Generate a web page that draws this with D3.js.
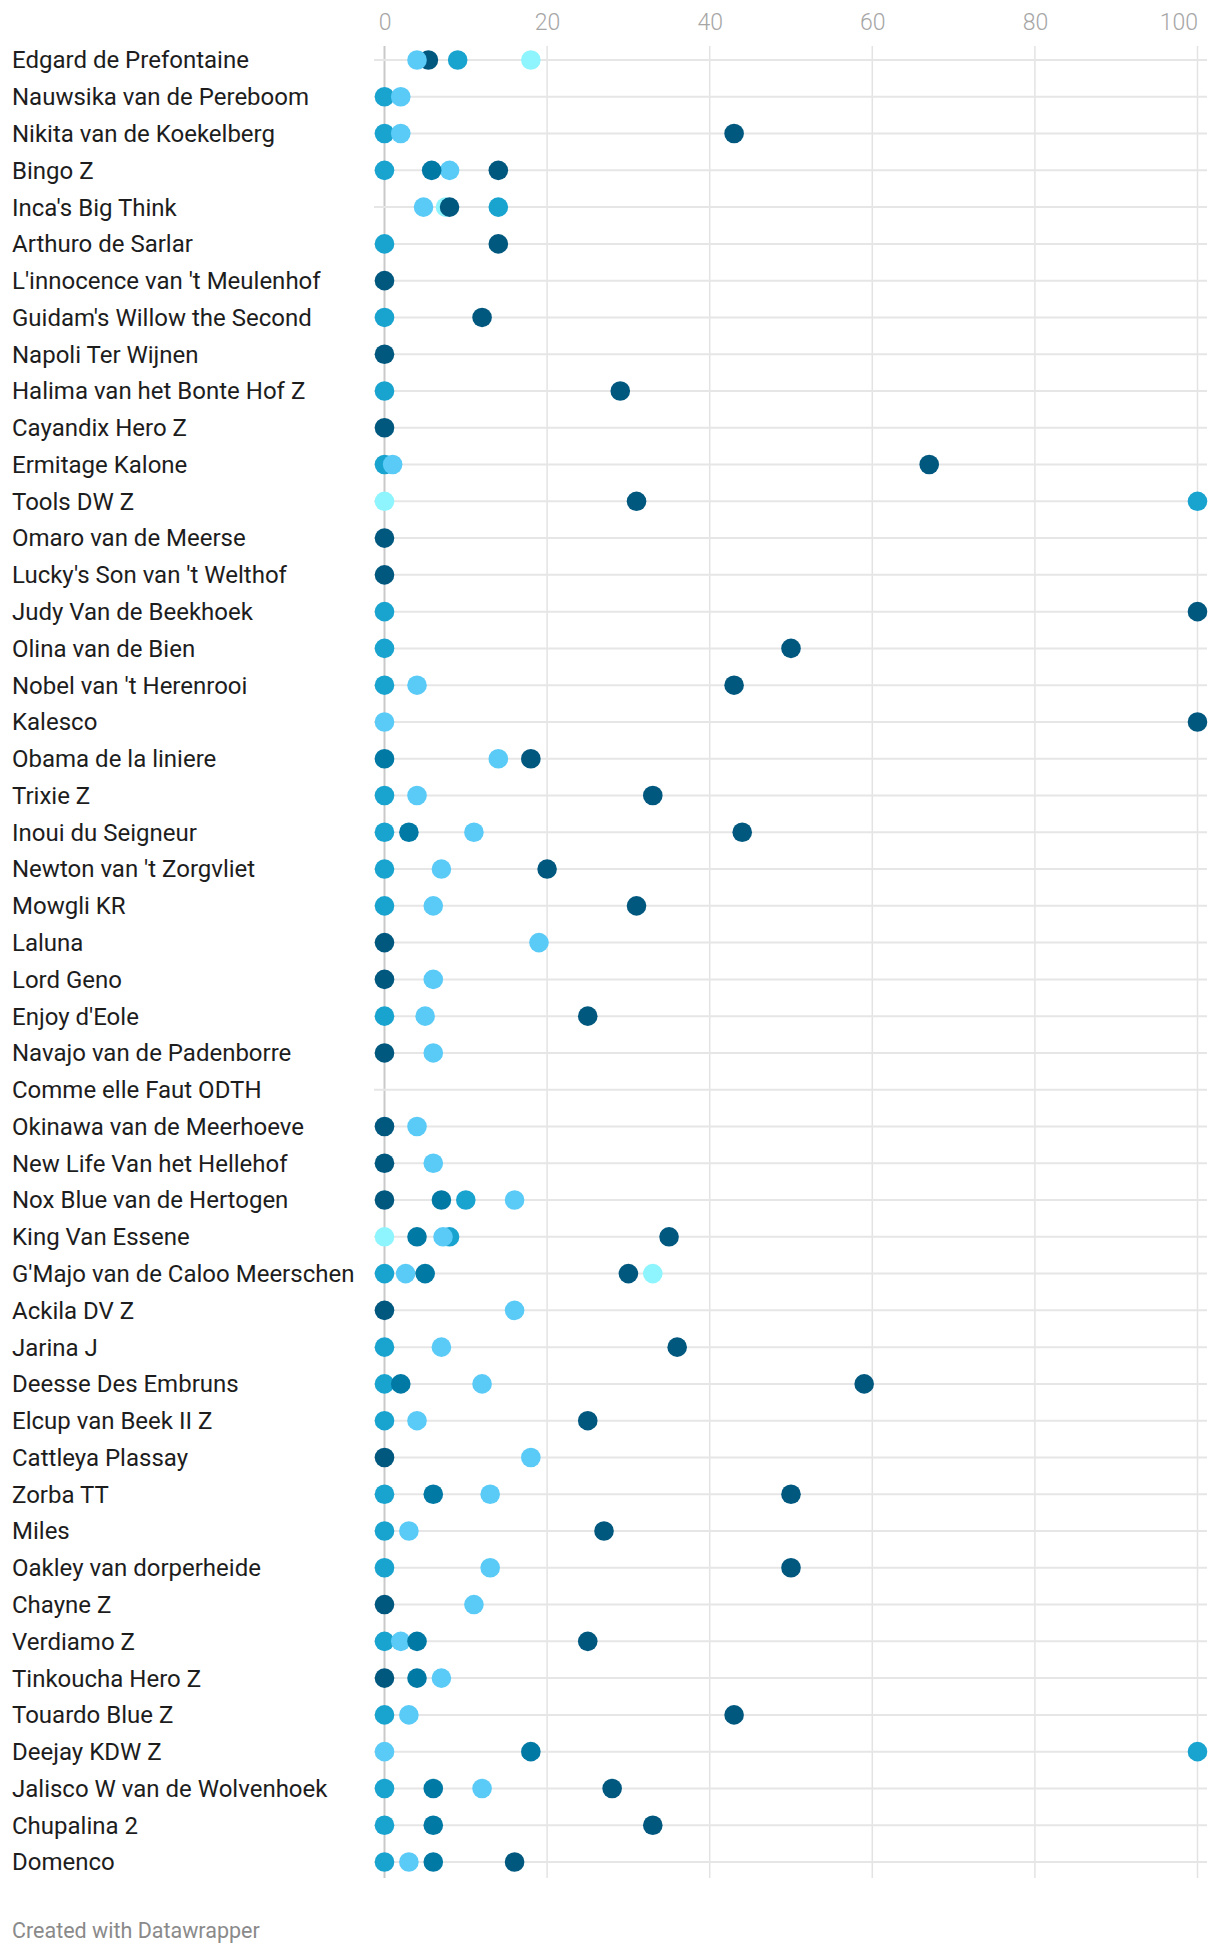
<!DOCTYPE html>
<html>
<head>
<meta charset="utf-8">
<script src="https://cdn.jsdelivr.net/npm/d3@7"></script>
<style>
  html, body { margin: 0; padding: 0; background: #fff; }
  svg { display: block; }
  text { font-family: Roboto, "Noto Sans", sans-serif; }
</style>
</head>
<body>
<svg id="chart" width="1220" height="1954"></svg>
<script>
const horses = [
  "Edgard de Prefontaine", "Nauwsika van de Pereboom", "Nikita van de Koekelberg", "Bingo Z",
  "Inca's Big Think", "Arthuro de Sarlar", "L'innocence van 't Meulenhof", "Guidam's Willow the Second",
  "Napoli Ter Wijnen", "Halima van het Bonte Hof Z", "Cayandix Hero Z", "Ermitage Kalone",
  "Tools DW Z", "Omaro van de Meerse", "Lucky's Son van 't Welthof", "Judy Van de Beekhoek",
  "Olina van de Bien", "Nobel van 't Herenrooi", "Kalesco", "Obama de la liniere",
  "Trixie Z", "Inoui du Seigneur", "Newton van 't Zorgvliet", "Mowgli KR",
  "Laluna", "Lord Geno", "Enjoy d'Eole", "Navajo van de Padenborre",
  "Comme elle Faut ODTH", "Okinawa van de Meerhoeve", "New Life Van het Hellehof", "Nox Blue van de Hertogen",
  "King Van Essene", "G'Majo van de Caloo Meerschen", "Ackila DV Z", "Jarina J",
  "Deesse Des Embruns", "Elcup van Beek II Z", "Cattleya Plassay", "Zorba TT",
  "Miles", "Oakley van dorperheide", "Chayne Z", "Verdiamo Z",
  "Tinkoucha Hero Z", "Touardo Blue Z", "Deejay KDW Z", "Jalisco W van de Wolvenhoek",
  "Chupalina 2", "Domenco"
];

// Series values per horse (null = no dot), same order as horses
const seriesCyan = [18, null, null, null, 7.5, null, null, null, null, null, null, null,
  0, null, null, null, null, null, null, null, null, null, null, null,
  null, null, null, null, null, null, null, null, 0, 33, null, null,
  null, null, null, null, null, null, null, null, null, null, null, null, null, null];
const seriesNavy = [5.4, null, 43, 14, 8, 14, 0, 12, 0, 29, 0, 67,
  31, 0, 0, 100, 50, 43, 100, 18, 33, 44, 20, 31,
  0, 0, 25, 0, null, 0, 0, 0, 35, 30, 0, 36,
  59, 25, 0, 50, 27, 50, 0, 25, 0, 43, null, 28, 33, 16];
const seriesMedium = [9, 0, 0, 0, 14, 0, null, 0, null, 0, null, 0,
  100, null, null, 0, 0, 0, null, null, 0, 0, 0, 0,
  null, null, 0, null, null, null, null, 10, 8, 0, null, 0,
  0, 0, null, 0, 0, 0, null, 0, null, 0, 100, 0, 0, 0];
const seriesLight = [4, 2, 2, 8, 4.8, null, null, null, null, null, null, 1,
  null, null, null, null, null, 4, 0, 14, 4, 11, 7, 6,
  19, 6, 5, 6, null, 4, 6, 16, 7.2, 2.6, 16, 7,
  12, 4, 18, 13, 3, 13, 11, 2, 7, 3, 0, 12, null, 3];
const seriesTeal = [null, null, null, 5.8, null, null, null, null, null, null, null, null,
  null, null, null, null, null, null, null, 0, null, 3, null, null,
  null, null, null, null, null, null, null, 7, 4, 5, null, null,
  2, null, null, 6, null, null, null, 4, 4, null, 18, 6, 6, 6];

const seriesNames = ["cyan", "navy", "medium", "light", "teal"];
const seriesColors = ["#8ef5ff", "#00587f", "#19a3cf", "#5acaf7", "#0079a5"];
const seriesValues = [seriesCyan, seriesNavy, seriesMedium, seriesLight, seriesTeal];

const tickValues = [0, 20, 40, 60, 80, 100];
const footerText = "Created with Datawrapper";

const svg = d3.select("#chart");

const x = d3.scaleLinear().domain([0, 100]).range([384.5, 1197.5]);
const y = d3.scalePoint().domain(horses).range([60, 1862]);

// vertical gridlines
svg.append("g")
  .selectAll("line")
  .data(tickValues)
  .join("line")
  .attr("x1", d => x(d)).attr("x2", d => x(d))
  .attr("y1", 46).attr("y2", 1878)
  .attr("stroke", d => d === 0 ? "#c9c9c9" : "#e3e3e3")
  .attr("stroke-width", d => d === 0 ? 2 : 1.5);

// row lines
svg.append("g")
  .selectAll("line")
  .data(horses)
  .join("line")
  .attr("x1", 374).attr("x2", 1207)
  .attr("y1", d => y(d)).attr("y2", d => y(d))
  .attr("stroke", "#e6e6e6")
  .attr("stroke-width", 2);

// top axis labels
const axis = d3.axisTop(x).tickValues(tickValues).tickSize(0).tickPadding(0);
const gAxis = svg.append("g")
  .attr("transform", "translate(0,30)")
  .call(axis);
gAxis.select(".domain").remove();
gAxis.selectAll("text")
  .attr("fill", "#a6a6a6")
  .attr("font-size", 23)
  .attr("font-weight", 300)
  .attr("font-family", "Roboto, sans-serif")
  .attr("dy", 0)
  .attr("text-anchor", d => d === 100 ? "end" : "middle");

// labels
svg.append("g")
  .selectAll("text")
  .data(horses)
  .join("text")
  .attr("x", 12)
  .attr("y", d => y(d))
  .attr("dy", "0.35em")
  .attr("font-size", 24)
  .attr("fill", "#1d1d1d")
  .text(d => d);

// dots
seriesValues.forEach((vals, si) => {
  const pts = horses.map((h, i) => ({ h, v: vals[i] })).filter(p => p.v !== null);
  svg.append("g")
    .attr("class", "series-" + seriesNames[si])
    .selectAll("circle")
    .data(pts)
    .join("circle")
    .attr("cx", d => x(d.v))
    .attr("cy", d => y(d.h))
    .attr("r", 9.8)
    .attr("fill", seriesColors[si]);
});

// footer
svg.append("text")
  .attr("x", 12)
  .attr("y", 1938)
  .attr("font-size", 21.5)
  .attr("fill", "#8a8a8a")
  .text(footerText);
</script>
</body>
</html>
